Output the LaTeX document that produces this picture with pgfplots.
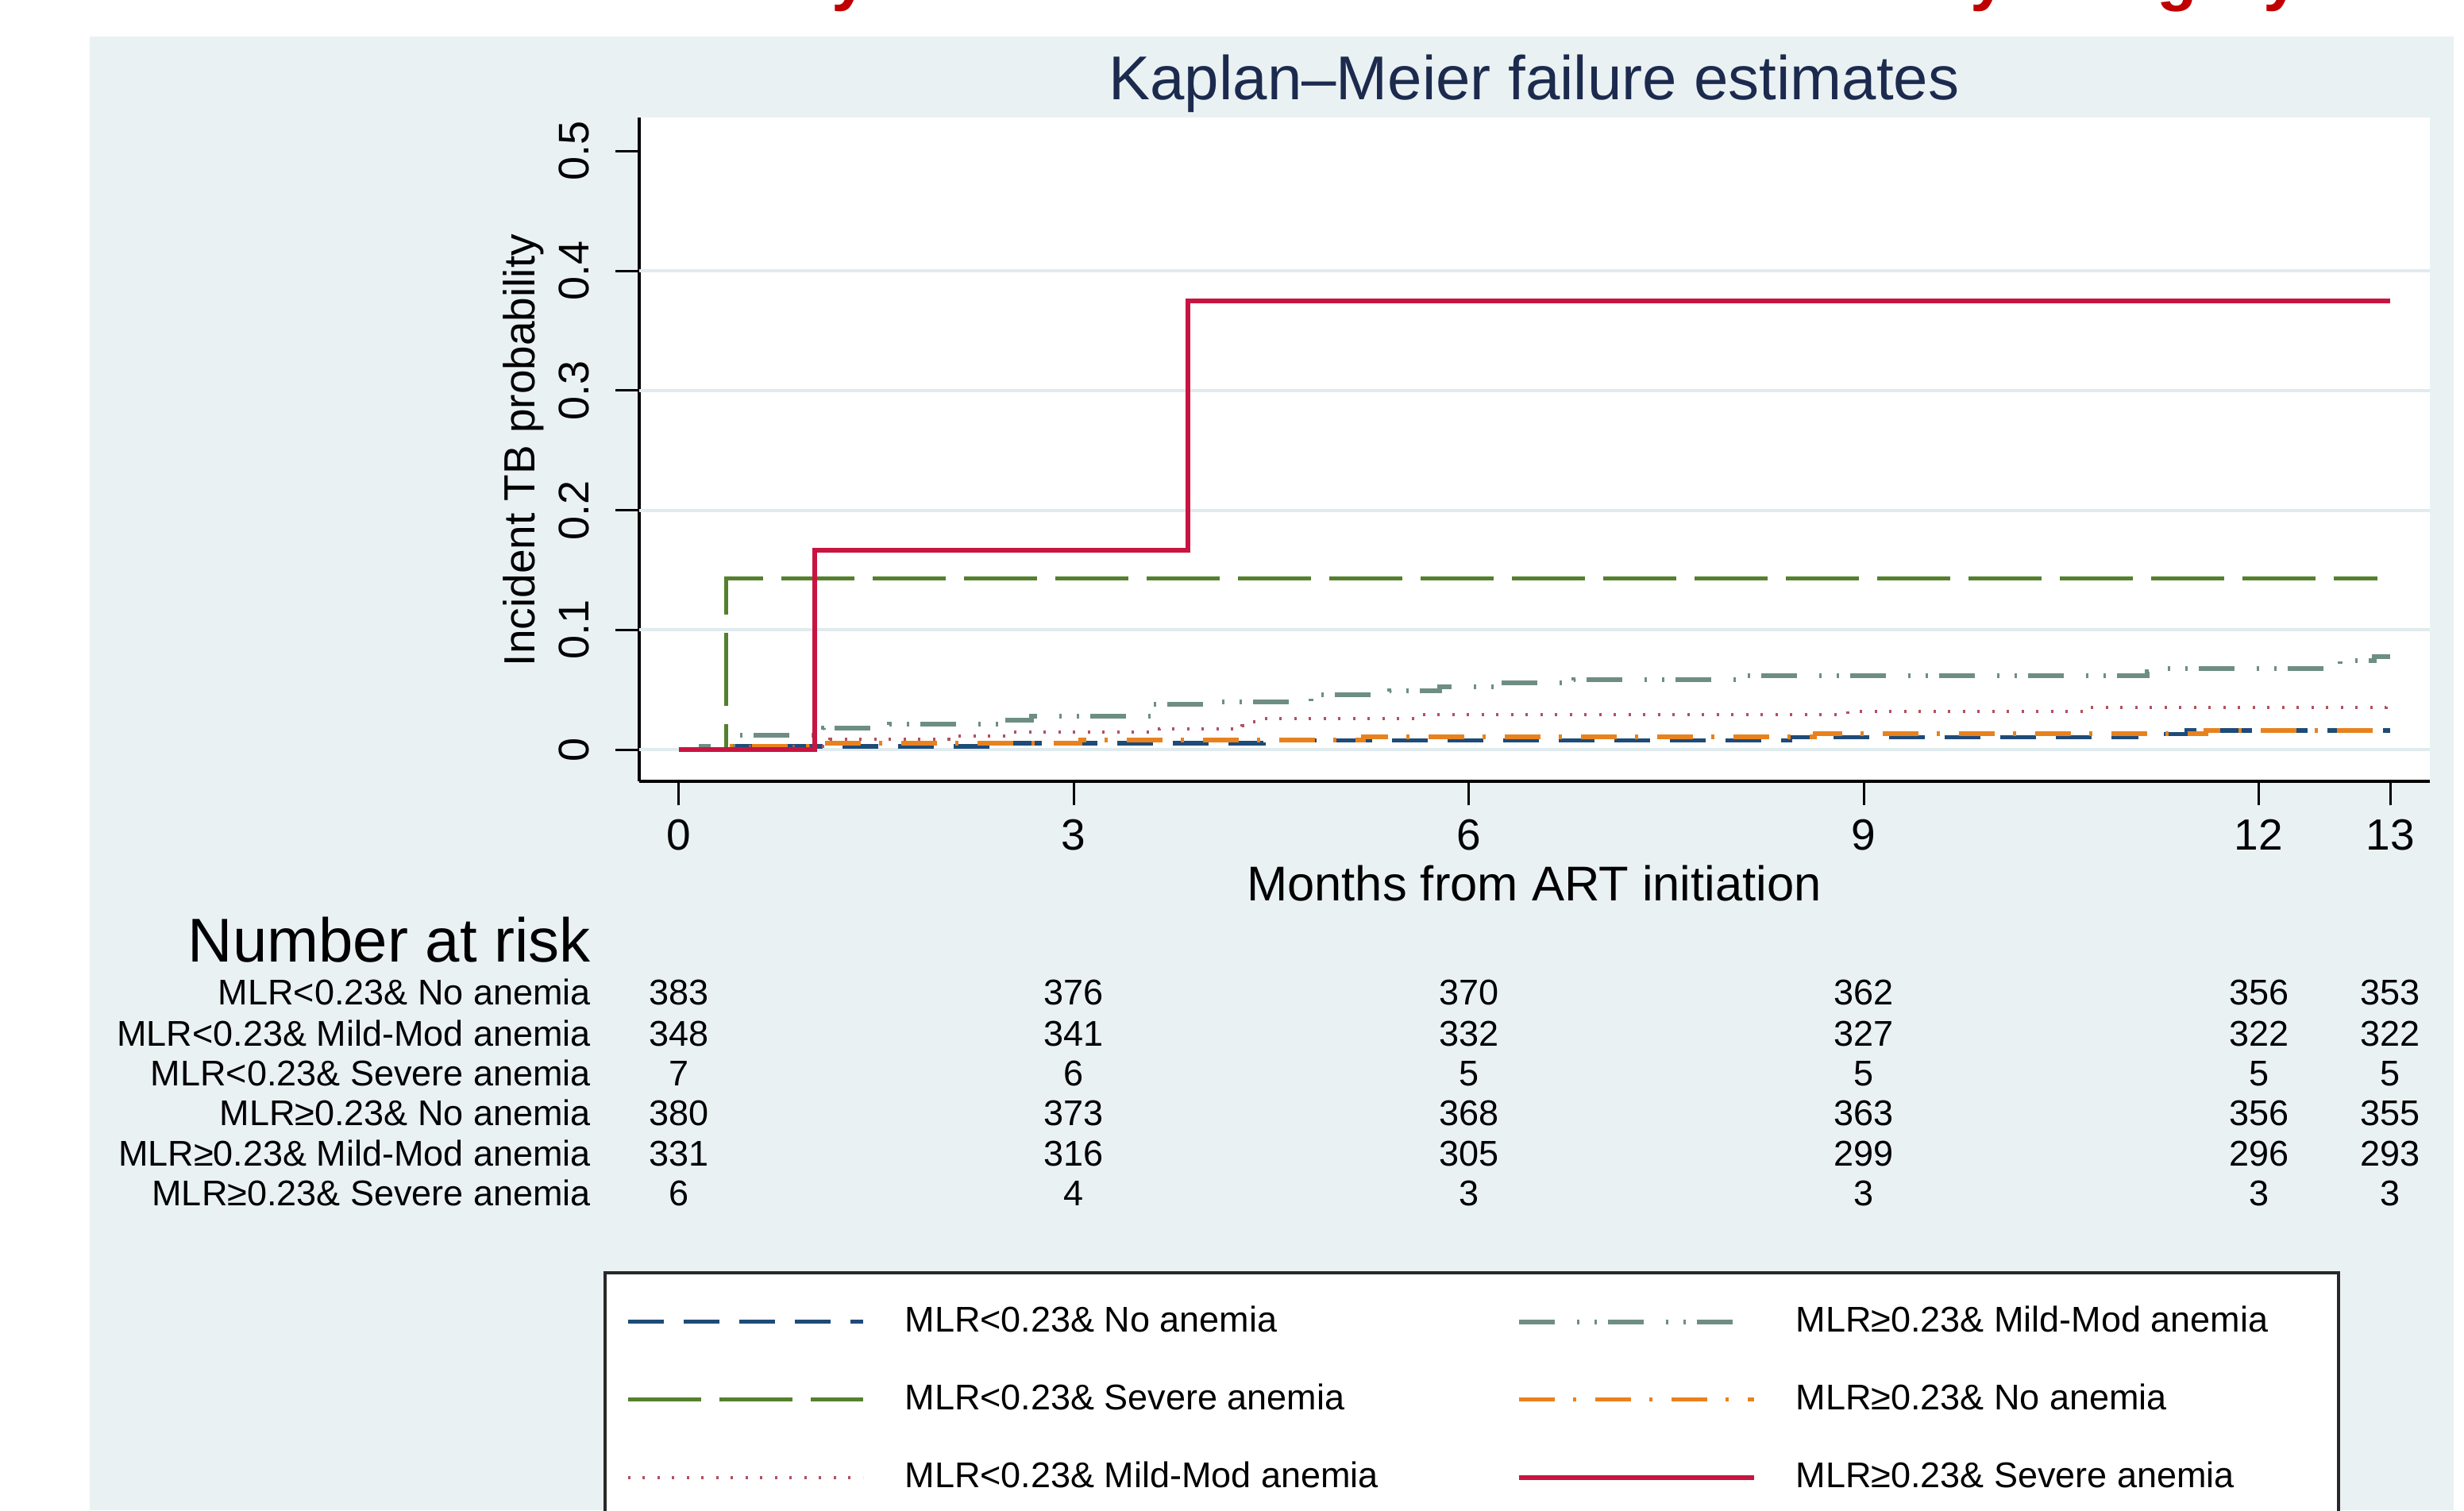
\documentclass[border=0pt]{standalone}
\usepackage{fontspec}
\setmainfont{Liberation Sans}
\usepackage{pgfplots}
\pgfplotsset{compat=1.18}
\definecolor{bgc}{RGB}{233,241,243}
\definecolor{gridc}{RGB}{224,235,238}
\definecolor{titlec}{RGB}{28,42,78}
\definecolor{redtitle}{RGB}{192,0,0}
\definecolor{navyc}{RGB}{30,75,120}
\definecolor{greenc}{RGB}{85,128,45}
\definecolor{pinkc}{RGB}{180,80,95}
\definecolor{orangec}{RGB}{232,130,30}
\definecolor{tealc}{RGB}{110,142,132}
\definecolor{redc}{RGB}{200,20,65}
\definecolor{legborder}{RGB}{40,40,40}
\tikzset{
 sA/.style={color=navyc, line width=1.1pt, dash pattern=on 9pt off 5pt},
 sB/.style={color=pinkc, line width=0.8pt, dash pattern=on 0.6pt off 3.1pt},
 sC/.style={color=greenc, line width=1.1pt, dash pattern=on 18.4pt off 4.6pt},
 sD/.style={color=orangec, line width=1.1pt, dash pattern=on 9pt off 4.6pt on 0.8pt off 4.8pt},
 sE/.style={color=tealc, line width=1.2pt, dash pattern=on 9pt off 5.6pt on 0.6pt off 3.8pt on 0.6pt off 2.8pt},
 sF/.style={color=redc, line width=1.2pt},
}
\begin{document}
\begin{tikzpicture}
\useasboundingbox (0pt,0pt) rectangle (620.6pt,-380.4pt);
\clip (0pt,0pt) rectangle (620.6pt,-380.4pt);
\begin{scope}[x=0.2pt,y=-0.2pt]
\fill[white] (0,0) rectangle (3103,1902);
\fill[bgc] (113,46) rectangle (3090,1902);
\node[anchor=base east, inner sep=0pt, text=redtitle, font=\fontsize{16.6}{20}\selectfont\bfseries] at (2898,-3) {Cumulative TB incidence by combined MLR and anemia severity category};
\node[anchor=base, inner sep=0pt, text=titlec, font=\fontsize{15.6}{18}\selectfont] at (1932,125) {Kaplan–Meier failure estimates};
\node[anchor=base, inner sep=0pt, font=\fontsize{12.3}{14}\selectfont] at (1932,1134) {Months from ART initiation};
\node[anchor=base, rotate=90, inner sep=0pt, font=\fontsize{11}{13}\selectfont] at (673,567) {Incident TB probability};
\node[anchor=base east, inner sep=0pt, font=\fontsize{15.6}{18}\selectfont] at (745,1211) {Number at risk};
\begin{scope}[font=\fontsize{9}{11}\selectfont]
\node[anchor=base east, inner sep=0pt] at (745,1265) {MLR<0.23\& No anemia};
\node[anchor=base east, inner sep=0pt] at (745,1317) {MLR<0.23\& Mild-Mod anemia};
\node[anchor=base east, inner sep=0pt] at (745,1367) {MLR<0.23\& Severe anemia};
\node[anchor=base east, inner sep=0pt] at (745,1417) {MLR≥0.23\& No anemia};
\node[anchor=base east, inner sep=0pt] at (745,1468) {MLR≥0.23\& Mild-Mod anemia};
\node[anchor=base east, inner sep=0pt] at (745,1518) {MLR≥0.23\& Severe anemia};
\foreach \yy/\a/\b/\c/\d/\e/\f in {1265/383/376/370/362/356/353, 1317/348/341/332/327/322/322, 1367/7/6/5/5/5/5, 1417/380/373/368/363/356/355, 1468/331/316/305/299/296/293, 1518/6/4/3/3/3/3}{
  \node[anchor=base, inner sep=0pt] at (855,\yy) {\a};
  \node[anchor=base, inner sep=0pt] at (1352,\yy) {\b};
  \node[anchor=base, inner sep=0pt] at (1850,\yy) {\c};
  \node[anchor=base, inner sep=0pt] at (2347,\yy) {\d};
  \node[anchor=base, inner sep=0pt] at (2845,\yy) {\e};
  \node[anchor=base, inner sep=0pt] at (3010,\yy) {\f};
}
\end{scope}
\draw[legborder, line width=0.8pt, fill=white] (762,1603) rectangle (2945,1980);
\end{scope}
\begin{axis}[
 at={(161pt,-196.8pt)}, anchor=south west,
 scale only axis, width=451pt, height=167.2pt,
 xmin=-0.3, xmax=13.3, ymin=-0.0265, ymax=0.528,
 axis lines*=left,
 axis line style={line width=0.7pt, black},
 axis background/.style={fill=white},
 tick align=outside,
 major tick length=6pt,
 tick style={line width=0.6pt, black},
 xtick={0,3,6,9,12,13},
 xticklabels={0,3,6,9,12,13},
 ytick={0,0.1,0.2,0.3,0.4,0.5},
 yticklabels={0,0.1,0.2,0.3,0.4,0.5},
 extra y ticks={0,0.1,0.2,0.3,0.4},
 extra y tick labels={},
 extra y tick style={grid=major, major tick length=0pt},
 major grid style={gridc, line width=0.8pt},
 /pgf/number format/assume math mode=true,
 xticklabel style={font=\fontsize{11}{13}\selectfont},
 yticklabel style={font=\fontsize{10.8}{12}\selectfont, rotate=90, anchor=south},
 yticklabel shift=3pt,
 legend style={at={(axis description cs:-0.00754,-0.790)}, anchor=north west, draw=none, fill=none, inner sep=0pt, outer sep=0pt, font=\fontsize{9}{10.8}\selectfont, row sep=11.6pt, column sep=10pt, nodes={inner sep=0pt}},
 legend columns=2,
 legend cell align=left,
 legend image code/.code={\draw[#1] (0pt,0pt) -- (59.2pt,0pt);},
]
\addplot[sA, const plot, forget plot] coordinates {(0,0) (0.38,0.0026) (2.5,0.0052) (4.44,0.0078) (8.44,0.0104) (11.07,0.0131) (11.45,0.0160) (13,0.0160)};
\addplot[sB, const plot, forget plot] coordinates {(0,0) (0.45,0.0029) (1.15,0.0086) (2.05,0.0115) (2.5,0.0144) (3.65,0.0173) (4.28,0.0202) (4.36,0.0231) (4.42,0.0260) (5.61,0.0290) (8.88,0.0320) (10.72,0.0351) (12.97,0.0370) (13,0.0370)};
\addplot[sC, const plot, forget plot] coordinates {(0,0) (0.36,0.1429) (12.9,0.1429)};
\addplot[sD, const plot, forget plot] coordinates {(0,0) (0.3,0.0026) (1.08,0.0053) (3.05,0.0079) (5.2,0.0106) (8.63,0.0133) (11.6,0.0160) (13,0.0160)};
\addplot[sE, const plot, forget plot] coordinates {(0,0) (0.17,0.0030) (0.45,0.0121) (1.1,0.0181) (1.6,0.0212) (2.45,0.0245) (2.68,0.0276) (3.6,0.0376) (4.1,0.0400) (4.8,0.0460) (5.4,0.0493) (5.78,0.0527) (6.24,0.0557) (6.8,0.0587) (8.05,0.0618) (11.15,0.0648) (11.3,0.0678) (12.5,0.0711) (12.62,0.0744) (12.88,0.0778) (13,0.0778)};
\addplot[sF, const plot, forget plot] coordinates {(0,0) (1.03,0.1667) (3.87,0.375) (13,0.375)};
\addlegendimage{sA}\addlegendentry{\makebox[144pt][l]{MLR<0.23\& No anemia}}
\addlegendimage{sE}\addlegendentry{MLR≥0.23\& Mild-Mod anemia}
\addlegendimage{sC}\addlegendentry{\makebox[144pt][l]{MLR<0.23\& Severe anemia}}
\addlegendimage{sD}\addlegendentry{MLR≥0.23\& No anemia}
\addlegendimage{sB}\addlegendentry{\makebox[144pt][l]{MLR<0.23\& Mild-Mod anemia}}
\addlegendimage{sF}\addlegendentry{MLR≥0.23\& Severe anemia}
\end{axis}
\end{tikzpicture}
\end{document}
